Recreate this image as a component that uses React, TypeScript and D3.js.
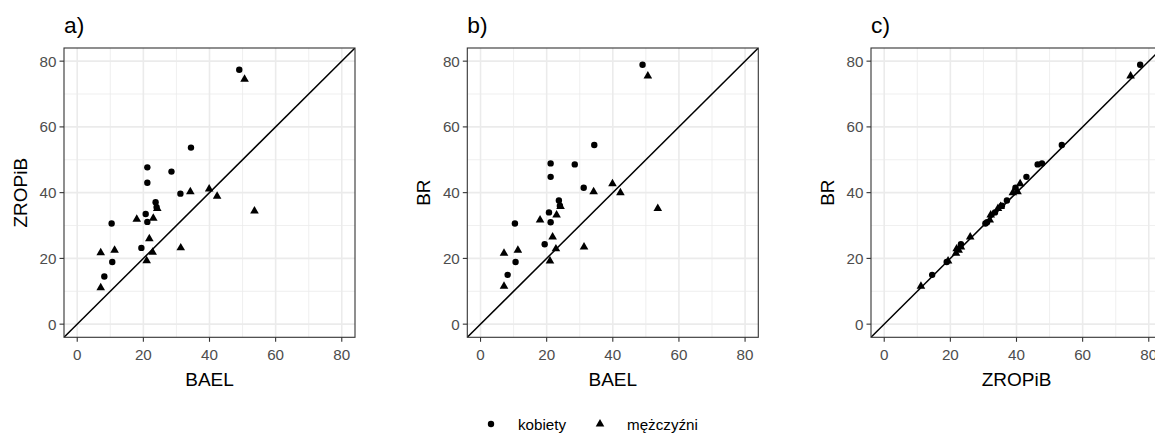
import React from "react";
import * as d3 from "d3";

// kobiety (women)
const womenBAEL = [49.0, 34.4, 21.2, 21.2, 28.5, 31.2, 23.7, 24.0, 20.7, 21.2, 10.4, 19.4, 10.6, 8.2];
const womenZROPiB = [77.4, 53.7, 47.7, 43.0, 46.4, 39.7, 37.1, 35.6, 33.5, 31.1, 30.6, 23.2, 18.9, 14.5];
const womenBR = [78.9, 54.5, 48.9, 44.8, 48.6, 41.5, 37.6, 36.0, 34.0, 31.0, 30.6, 24.3, 18.9, 15.0];

// mężczyźni (men)
const menBAEL = [50.6, 34.2, 39.9, 42.3, 53.6, 24.2, 18.0, 23.0, 21.8, 7.1, 11.3, 22.8, 21.0, 31.3, 7.1];
const menZROPiB = [74.5, 40.3, 41.1, 38.9, 34.4, 35.2, 31.9, 32.2, 26.0, 21.7, 22.5, 21.9, 19.3, 23.2, 11.1];
const menBR = [75.5, 40.3, 42.7, 40.0, 35.2, 35.8, 31.7, 33.2, 26.5, 21.6, 22.5, 22.9, 19.2, 23.5, 11.5];

const majorTicks = [0, 20, 40, 60, 80];
const minorTicks = [10, 30, 50, 70];
const domain: [number, number] = [-4, 84];

const panelTitles = ["a)", "b)", "c)"];
const legendLabels = ["kobiety", "mężczyźni"];

const FONT = "'Liberation Sans', Arial, Helvetica, sans-serif";
const R = 3.2;

const triPath = (cx: number, cy: number) => {
  const r = 1.555 * R;
  const hx = 1.347 * R;
  const yc = 0.778 * R;
  return `M${cx},${cy - r}L${cx + hx},${cy + yc}L${cx - hx},${cy + yc}Z`;
};

type PanelProps = {
  left: number;
  title: string;
  xLabel: string;
  yLabel: string;
  wx: number[];
  wy: number[];
  mx: number[];
  my: number[];
};

const TOP = 48;
const BOTTOM = 337.3;
const W = 291;

function Panel({ left, title, xLabel, yLabel, wx, wy, mx, my }: PanelProps) {
  const x = d3.scaleLinear().domain(domain).range([left, left + W]);
  const y = d3.scaleLinear().domain(domain).range([BOTTOM, TOP]);
  const clipId = `clip-${title.replace(/\W/g, "")}`;
  return (
    <g>
      <defs>
        <clipPath id={clipId}>
          <rect x={left} y={TOP} width={W} height={BOTTOM - TOP} />
        </clipPath>
      </defs>
      <rect x={left} y={TOP} width={W} height={BOTTOM - TOP} fill="#FFFFFF" />
      {minorTicks.map((t) => (
        <g key={"mi" + t}>
          <line x1={x(t)} x2={x(t)} y1={TOP} y2={BOTTOM} stroke="#EBEBEB" strokeWidth={0.8} />
          <line x1={left} x2={left + W} y1={y(t)} y2={y(t)} stroke="#EBEBEB" strokeWidth={0.8} />
        </g>
      ))}
      {majorTicks.map((t) => (
        <g key={"ma" + t}>
          <line x1={x(t)} x2={x(t)} y1={TOP} y2={BOTTOM} stroke="#EBEBEB" strokeWidth={1.6} />
          <line x1={left} x2={left + W} y1={y(t)} y2={y(t)} stroke="#EBEBEB" strokeWidth={1.6} />
        </g>
      ))}
      <g clipPath={`url(#${clipId})`}>
        <line x1={x(domain[0])} y1={y(domain[0])} x2={x(domain[1])} y2={y(domain[1])} stroke="#000" strokeWidth={1.5} />
        {wx.map((v, i) => (
          <circle key={"w" + i} cx={x(v)} cy={y(wy[i])} r={R} fill="#000" />
        ))}
        {mx.map((v, i) => (
          <path key={"m" + i} d={triPath(x(v), y(my[i]))} fill="#000" />
        ))}
      </g>
      <rect x={left} y={TOP} width={W} height={BOTTOM - TOP} fill="none" stroke="#333333" strokeWidth={1.1} />
      {majorTicks.map((t) => (
        <g key={"tk" + t}>
          <line x1={x(t)} x2={x(t)} y1={BOTTOM} y2={BOTTOM + 4.5} stroke="#333333" strokeWidth={1.1} />
          <text x={x(t)} y={BOTTOM + 23} textAnchor="middle" fontSize={15.2} fill="#4D4D4D" fontFamily={FONT}>
            {t}
          </text>
          <line x1={left - 4.5} x2={left} y1={y(t)} y2={y(t)} stroke="#333333" strokeWidth={1.1} />
          <text x={left - 7.5} y={y(t) + 5.4} textAnchor="end" fontSize={15.2} fill="#4D4D4D" fontFamily={FONT}>
            {t}
          </text>
        </g>
      ))}
      <text x={left + W / 2} y={386} textAnchor="middle" fontSize={19} fill="#000" fontFamily={FONT}>
        {xLabel}
      </text>
      <text
        transform={`translate(${left - 37},${(TOP + BOTTOM) / 2}) rotate(-90)`}
        textAnchor="middle"
        fontSize={19}
        fill="#000"
        fontFamily={FONT}
      >
        {yLabel}
      </text>
      <text x={left} y={33} fontSize={22.8} fill="#000" fontFamily={FONT}>
        {title}
      </text>
    </g>
  );
}

export default function App() {
  return (
    <svg width={1155} height={435} style={{ position: "absolute", left: 0, top: 0, background: "#fff" }}>
      <rect width={1155} height={435} fill="#fff" />
      <Panel left={64} title={panelTitles[0]} xLabel="BAEL" yLabel="ZROPiB" wx={womenBAEL} wy={womenZROPiB} mx={menBAEL} my={menZROPiB} />
      <Panel left={467.3} title={panelTitles[1]} xLabel="BAEL" yLabel="BR" wx={womenBAEL} wy={womenBR} mx={menBAEL} my={menBR} />
      <Panel left={871} title={panelTitles[2]} xLabel="ZROPiB" yLabel="BR" wx={womenZROPiB} wy={womenBR} mx={menZROPiB} my={menBR} />
      <g fontFamily={FONT}>
        <circle cx={491} cy={424} r={R} fill="#000" />
        <text x={518} y={429.5} fontSize={15.2} fill="#000">{legendLabels[0]}</text>
        <path d={triPath(600, 424)} fill="#000" />
        <text x={627} y={429.5} fontSize={15.2} fill="#000">{legendLabels[1]}</text>
      </g>
    </svg>
  );
}
